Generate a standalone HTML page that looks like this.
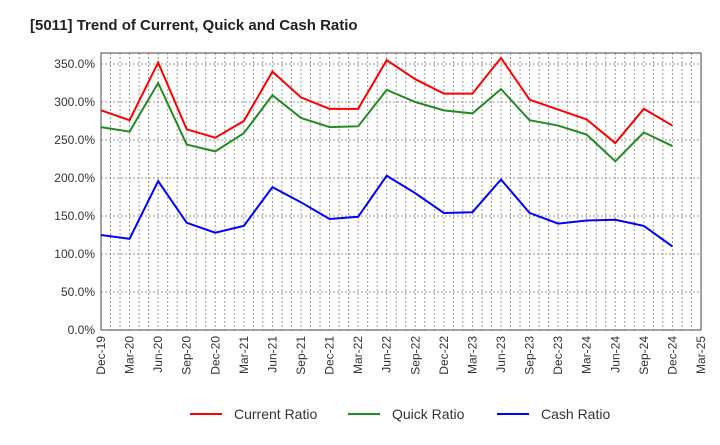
<!DOCTYPE html>
<html><head><meta charset="utf-8"><style>
body{margin:0;background:#fff;font-family:"Liberation Sans",sans-serif}
</style></head><body>
<svg id="c" width="720" height="440" xmlns="http://www.w3.org/2000/svg" font-family="Liberation Sans, sans-serif"></svg>
<script>
const categories=["Dec-19","Mar-20","Jun-20","Sep-20","Dec-20","Mar-21","Jun-21","Sep-21","Dec-21","Mar-22","Jun-22","Sep-22","Dec-22","Mar-23","Jun-23","Sep-23","Dec-23","Mar-24","Jun-24","Sep-24","Dec-24","Mar-25"];
const currentRatio=[289,276,352,264,253,275,340,306,291,291,355,330,311,311,358,303,290,277,246,291,269];
const quickRatio=[267,261,325,244,235,259,309,279,267,268,316,300,289,285,317,276,269,257,222,260,242];
const cashRatio=[125,120,196,141,128,137,188,168,146,149,203,180,154,155,198,154,140,144,145,137,110];
const yTicks=[0,50,100,150,200,250,300,350];
const svg=document.getElementById('c');const NS='http://www.w3.org/2000/svg';
const L=101,R=701,T=53,B=330;
const x=i=>L+(R-L)*i/21;
const y=v=>B-v*38/50;
function el(t,a,p){const e=document.createElementNS(NS,t);for(const k in a)e.setAttribute(k,a[k]);(p||svg).appendChild(e);return e;}
const title=el('text',{x:30,y:30,'font-size':15,'font-weight':'bold',fill:'#222'});title.textContent='[5011]  Trend of Current, Quick and Cash Ratio';


for(let m=1;m<63;m++){const xx=L+(R-L)*m/63;const g=el('line',{x1:xx,x2:xx,y1:T,y2:B,stroke:'#999','stroke-dasharray':'2,2','stroke-width':1});

}
yTicks.forEach(v=>{const yy=y(v);if(v>0){const g=el('line',{x1:L,x2:R,y1:yy,y2:yy,stroke:'#999','stroke-dasharray':'2,2'});

}
const t=el('text',{x:L-6,y:yy+4,'text-anchor':'end','font-size':12,fill:'#333'});t.textContent=v.toFixed(1)+'%';

});
const fr=el('rect',{x:L,y:T,width:R-L,height:B-T,fill:'none',stroke:'#444'});


categories.forEach((c,i)=>{const t=el('text',{transform:`translate(${x(i)+4},${B+6}) rotate(-90)`,'text-anchor':'end','font-size':12,fill:'#333'});t.textContent=c;

});
function series(d,col,name){const p=el('polyline',{points:d.map((v,i)=>x(i)+','+y(v)).join(' '),fill:'none',stroke:col,'stroke-width':2});

}
series(currentRatio,'#ff0000','current-ratio-line');
series(quickRatio,'#228b22','quick-ratio-line');
series(cashRatio,'#0000ff','cash-ratio-line');
[['Current Ratio','#ff0000',190],['Quick Ratio','#228b22',348],['Cash Ratio','#0000ff',497]].forEach(([n,c,lx])=>{
const g=el('g',{});

el('line',{x1:lx,x2:lx+32,y1:414,y2:414,stroke:c,'stroke-width':2},g);
const t=el('text',{x:lx+44,y:419,'font-size':14,fill:'#333'},g);t.textContent=n;});
</script>
</body></html>
